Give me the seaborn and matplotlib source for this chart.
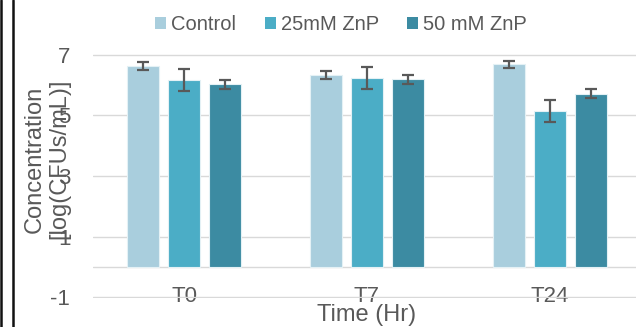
import numpy as np
import pandas as pd
import matplotlib
matplotlib.use("Agg")
import matplotlib.pyplot as plt
import seaborn as sns
from matplotlib.patches import Patch
from matplotlib.lines import Line2D

# data
times = ["T0", "T7", "T24"]
groups = ["Control", "25mM ZnP", "50 mM ZnP"]
control = [6.64, 6.34, 6.69]
zn25 = [6.17, 6.25, 5.14]
zn50 = [6.04, 6.20, 5.72]
control_err = [0.12, 0.12, 0.12]
zn25_err = [0.36, 0.36, 0.36]
zn50_err = [0.15, 0.15, 0.15]

colours = ["#A9CEDD", "#4BADC6", "#3C8BA2"]
txt = "#595959"
grid = "#D9D9D9"

df = pd.DataFrame({
    "time": times * 3,
    "group": [g for g in groups for _ in times],
    "value": control + zn25 + zn50,
})
errs = [control_err, zn25_err, zn50_err]

sns.set_theme(style="white")
plt.rcParams['font.family'] = ['Liberation Sans', 'DejaVu Sans']

fig = plt.figure(figsize=(6.36, 3.27), dpi=100)
ax = fig.add_axes([92.5/636, 29/327, 549/636, 244/327])

sns.barplot(data=df, x="time", y="value", hue="group", order=times,
            hue_order=groups, palette=colours, saturation=1, errorbar=None,
            width=0.664, gap=0.21, edgecolor="#E4F1F5", linewidth=0.8,
            ax=ax, zorder=3)

for cont, e in zip(ax.containers, errs):
    for bar, err in zip(cont, e):
        ax.errorbar(bar.get_x() + bar.get_width()/2, bar.get_height(), yerr=err,
                    color=txt, elinewidth=1.6, capsize=4.3, capthick=1.6,
                    zorder=4)

ax.legend_.remove()
ax.set_xlim(-0.5, 2.5)
ax.set_ylim(-1.033, 7.033)
ax.set_yticks([7, 5, 3, 1, -1])
ax.set_yticklabels(["7", "5", "3", "1", "-1"])
for y in [7, 5, 3, 1, -1, 0]:
    ax.axhline(y, color=grid, lw=1.0, zorder=1)
for s in ax.spines.values():
    s.set_visible(False)
ax.grid(False)
ax.tick_params(axis="y", length=0, pad=16, labelsize=16, labelcolor=txt)
ax.tick_params(axis="x", length=0, pad=-8.6, labelsize=16, labelcolor=txt)

ax.set_xlabel("Time (Hr)", fontsize=17, color=txt)
ax.xaxis.label.set_va("center")
ax.xaxis.set_label_coords(0.5, -17/244)
ax.set_ylabel("Concentration\n[log(CFUs/mL)]", fontsize=17, color=txt,
              linespacing=1.15)
ax.yaxis.label.set_va("center")
ax.yaxis.set_label_coords(-0.083, 0.57)

handles = [Patch(facecolor=c, edgecolor="none", label=g) for c, g in zip(colours, groups)]
fig.legend(handles=handles, loc="center", bbox_to_anchor=(341/636, 1 - 25/327),
           ncol=3, frameon=False, fontsize=14.5, labelcolor=txt,
           handlelength=0.55, handleheight=0.55, handletextpad=0.25,
           columnspacing=1.4, borderpad=0)

# left frame lines
fig.add_artist(Line2D([1/636, 1/636], [0, 1], color="#111111", lw=1.8,
                      transform=fig.transFigure))
fig.add_artist(Line2D([13/636, 13/636], [0, 1], color="#111111", lw=1.8,
                      transform=fig.transFigure))

fig.savefig("out.png", dpi=100)
